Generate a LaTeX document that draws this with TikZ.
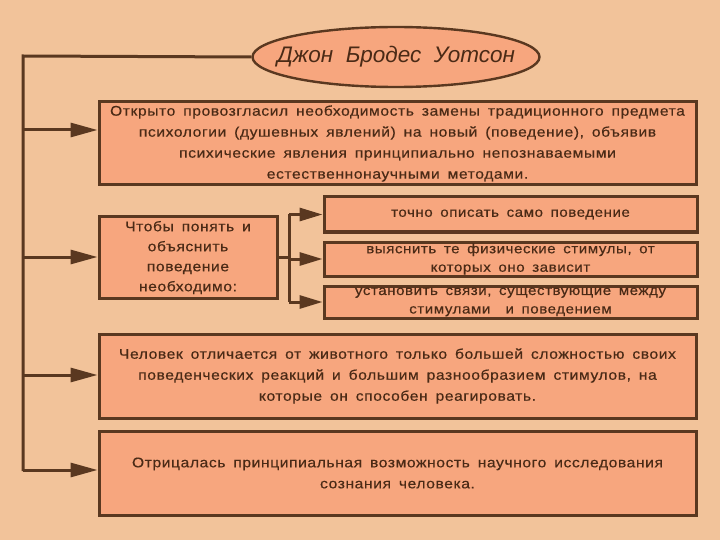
\documentclass[tikz,border=0pt]{standalone}
\usepackage{fontspec}
\setmainfont{Liberation Sans}
\newfontfamily\schrift[FakeStretch=1.12,LetterSpace=4,WordSpace=1.6,FakeBold=0.4]{Liberation Sans}
\usetikzlibrary{arrows.meta,shapes.geometric,calc,positioning}
\definecolor{hintergrund}{HTML}{F2C39A}
\definecolor{lachs}{HTML}{F7A67E}
\definecolor{braun}{HTML}{5A3820}
\definecolor{tinte}{HTML}{4A2A16}

\begin{document}
\begin{tikzpicture}[
    x=1pt, y=-1pt,
    linie/.style  = {draw=braun, line width=3pt},
    pfeil/.style  = {linie, -{Triangle[length=27pt,width=14pt]}},
    kpfeil/.style = {linie, -{Triangle[length=23pt,width=13pt]}},
    kasten/.style = {draw=braun, fill=lachs, line width=3pt, align=center, text=tinte,
                     inner sep=0pt, font=\schrift\fontsize{14}{21}\selectfont},
    teil/.style   = {kasten, minimum width=373pt, font=\schrift\fontsize{13.5}{18.5}\selectfont},
  ]
	\fill[hintergrund] (0,0) rectangle (720,540);
	\useasboundingbox (0,0) rectangle (720,540);

	% Titel
	\node (titel) at (396,57) [ellipse, draw=braun, fill=lachs, line width=2.4pt,
	  inner xsep=-20pt, inner ysep=0pt, minimum width=287pt, minimum height=60pt, text=tinte,
	  font=\fontsize{22.5}{24}\selectfont\itshape] {Джон\ \ Бродес\ \ Уотсон};

	% Kaesten links
	\node (ziel1) at (397.5,143.5) [kasten, minimum width=597pt, minimum height=83pt]
	  {Открыто провозгласил необходимость замены традиционного предмета\\
	   психологии (душевных явлений) на новый (поведение), объявив\\
	   психические явления принципиально непознаваемыми\\
	   естественнонаучными методами.};
	\node (ziel2) at (188,257.5) [kasten, minimum width=178pt, minimum height=81pt,
	  font=\schrift\fontsize{14}{20}\selectfont]
	  {Чтобы понять и\\ объяснить\\ поведение\\ необходимо:};
	\node (ziel3) at (397.5,376) [kasten, minimum width=597pt, minimum height=84pt]
	  {Человек отличается от животного только большей сложностью своих\\
	   поведенческих реакций и большим разнообразием стимулов, на\\
	   которые он способен реагировать.};
	\node (ziel4) at (397.5,473) [kasten, minimum width=597pt, minimum height=84pt]
	  {Отрицалась принципиальная возможность научного исследования\\
	   сознания человека.};

	% Kaesten rechts
	\node (teilA) at (510.5,214.5) [teil, minimum height=35pt] {точно описать само поведение};
	\node (teilB) at (510.5,259) [teil, minimum height=34pt]
	  {выяснить те физические стимулы, от\\ которых оно зависит};
	\node (teilC) at (510.5,302) [teil, minimum height=32pt]
	  {установить связи, существующие между\\ стимулами \ и поведением};

	% Hauptlinie
	\coordinate (knick) at (23,56);
	\coordinate (ende) at (23,471);
	\draw[linie] (titel.west) -- (knick) -- (ende);

	% Pfeile zu den Kaesten
	\coordinate (a1) at (23,130);
	\coordinate (a2) at (23,257);
	\coordinate (a3) at (23,375);
	\coordinate (a4) at (23,470);
	\draw[pfeil] (a1) -- (a1 -| ziel1.west);
	\draw[pfeil] (a2) -- (a2 -| ziel2.west);
	\draw[pfeil] (a3) -- (a3 -| ziel3.west);
	\draw[pfeil] (a4) -- (a4 -| ziel4.west);

	% Gabel
	\coordinate (gabel) at (289,257);
	\draw[linie] (ziel2.east |- gabel) -- (gabel);
	\draw[linie] (gabel |- teilA.west) -- (gabel |- teilC.west);
	\draw[kpfeil] (gabel |- teilA.west) -- (teilA.west);
	\draw[kpfeil] (gabel |- teilB.west) -- (teilB.west);
	\draw[kpfeil] (gabel |- teilC.west) -- (teilC.west);

\end{tikzpicture}
\end{document}
